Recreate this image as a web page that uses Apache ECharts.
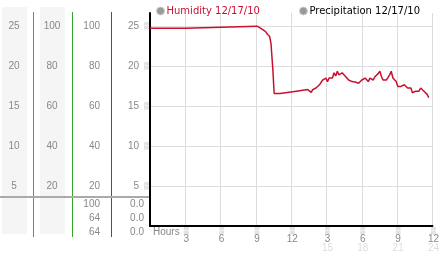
<!DOCTYPE html>
<html><head><meta charset="utf-8">
<script src="https://cdn.jsdelivr.net/npm/echarts@6/dist/echarts.min.js"></script>
<style>html,body{margin:0;padding:0;background:#fff}#c{width:442px;height:253px}</style>
</head><body><div id="c"></div>
<script>
// ---- data ----
const hours = [0, 3.0, 3.02, 9.1, 9.25, 9.39, 9.55, 9.8, 10.0, 10.17, 10.28, 10.36, 10.44, 10.55, 11.05, 12.44, 13.4, 13.55, 13.7, 13.83, 14.1, 14.25, 14.4, 14.67, 14.94, 15.08, 15.22, 15.36, 15.5, 15.64, 15.78, 15.92, 16.05, 16.19, 16.33, 16.47, 16.61, 16.75, 16.88, 17.03, 17.17, 17.3, 17.44, 17.58, 17.72, 17.86, 18.0, 18.14, 18.28, 18.42, 18.55, 18.69, 18.83, 18.97, 19.11, 19.25, 19.39, 19.53, 19.67, 19.8, 19.94, 20.08, 20.22, 20.36, 20.5, 20.64, 20.78, 20.92, 21.05, 21.2, 21.33, 21.47, 21.61, 21.75, 21.89, 22.03, 22.17, 22.3, 22.44, 22.58, 22.72, 22.86, 23.0, 23.14, 23.28, 23.42, 23.55, 23.69];
const humidity = [24.8, 24.8, 25.05, 25.05, 25.0, 24.8, 24.7, 24.4, 24.0, 23.75, 22.9, 21.25, 19.6, 16.6, 16.6, 16.9, 17.1, 17.3, 16.75, 17.1, 17.3, 17.5, 17.7, 18.3, 18.55, 18.1, 18.55, 18.75, 18.55, 19.2, 18.8, 19.4, 18.95, 18.75, 19.2, 18.95, 18.75, 18.55, 18.3, 18.35, 18.1, 17.9, 18.05, 18.1, 17.9, 18.15, 18.3, 18.1, 18.55, 18.4, 18.1, 18.55, 18.45, 18.3, 18.7, 18.95, 19.1, 19.4, 18.75, 18.3, 18.35, 18.3, 18.6, 18.95, 19.4, 18.55, 18.3, 18.1, 17.5, 17.55, 17.5, 17.5, 17.7, 17.9, 17.3, 17.35, 17.3, 16.7, 16.9, 16.9, 16.85, 16.9, 17.3, 17.1, 16.9, 16.7, 16.5, 16.1];
const precipitation = [];
const seriesNames = ['Humidity 12/17/10', 'Precipitation 12/17/10'];
const xTickValues = [3, 6, 9, 12, 15, 18, 21, 24];
const xTickLabels = ['3', '6', '9', '12', '3', '6', '9', '12'];
const xTickSub = ['', '', '', '', '15', '18', '21', '24'];
const footCol3 = ['100', '64', '64'];
const footCol4 = ['0.0', '0.0', '0.0'];

const chart = echarts.init(document.getElementById('c'), null, {renderer: 'canvas'});
const FONT = 'Liberation Sans';
const LBL = '#888';
const mark = '▒';

const graphics = [];
// gray bands
[[2, 25], [40, 25]].forEach(([x, w]) => graphics.push({type: 'rect', shape: {x: x, y: 7, width: w, height: 227}, style: {fill: '#f5f5f5'}, z: -10}));
// colored divider lines
[[33, '#1e9be0'], [72, '#2ea82e'], [111, '#c82020']].forEach(([x, c]) => graphics.push({type: 'rect', shape: {x: x, y: 12, width: 1, height: 225}, style: {fill: c}, z: 5}));
// horizontal gray separator
graphics.push({type: 'rect', shape: {x: 0, y: 196, width: 149, height: 2}, style: {fill: '#aaa'}, z: 6});
// footer values
footCol3.forEach((t, i) => graphics.push({type: 'text', x: 100, y: 204 + i * 14, style: {text: t, align: 'right', verticalAlign: 'middle', fill: LBL, font: '10px ' + FONT}, z: 7}));
footCol4.forEach((t, i) => graphics.push({type: 'text', x: 144, y: 204 + i * 14, style: {text: t, align: 'right', verticalAlign: 'middle', fill: LBL, font: '10px ' + FONT}, z: 7}));
graphics.push({type: 'text', x: 153, y: 232, style: {text: 'Hours', align: 'left', verticalAlign: 'middle', fill: LBL, font: '10px ' + FONT}, z: 7});

const sideAxis = (max, interval, offset, margin, align) => ({
  type: 'value', min: 0, max: max, interval: interval, position: 'left', offset: offset,
  axisLine: {show: false}, axisTick: {show: false}, splitLine: {show: false},
  axisLabel: {margin: margin, align: align, color: LBL, fontFamily: FONT, fontSize: 10, showMinLabel: false, showMaxLabel: false}
});

chart.setOption({
  animation: false,
  textStyle: {fontFamily: FONT},
  legend: {
    left: 151, top: 1, itemWidth: 8, itemHeight: 8, itemGap: 39, icon: 'circle', selectedMode: false,
    textStyle: {fontFamily: 'DejaVu Sans', fontSize: 10, padding: [0, 0, 0, -3]},
    data: [
      {name: seriesNames[0], itemStyle: {color: '#9a9a9a', borderColor: '#d0d0d0', borderWidth: 1}, textStyle: {color: '#c8102e'}},
      {name: seriesNames[1], itemStyle: {color: '#9a9a9a', borderColor: '#d0d0d0', borderWidth: 1}, textStyle: {color: '#000'}}
    ]
  },
  grid: {left: 150, right: 3.5, top: 13, bottom: 26.5},
  xAxis: {
    type: 'value', min: 0, max: 24, interval: 3,
    axisLine: {lineStyle: {color: '#000', width: 2}},
    axisTick: {show: false},
    splitLine: {lineStyle: {color: '#dcdcdc', width: 1}},
    axisLabel: {
      margin: 2, showMinLabel: false,
      formatter: v => {
        const i = xTickValues.indexOf(v);
        if (i < 0) return '';
        let s = '{m|' + mark + '}\n{n|' + xTickLabels[i] + '}';
        if (xTickSub[i]) s += '\n{f|' + xTickSub[i] + '}';
        return s;
      },
      rich: {
        m: {fontSize: 7, color: '#999', lineHeight: 7, padding: [0, 0, 0, 2]},
        n: {fontSize: 10, color: LBL, fontFamily: FONT, lineHeight: 8, padding: [0, 0, 0, 2]},
        f: {fontSize: 10, color: '#ddd', fontFamily: FONT, lineHeight: 10, padding: [0, 0, 0, 2]}
      }
    }
  },
  yAxis: [
    {
      type: 'value', min: 0, max: 26.7, interval: 5, position: 'left',
      axisLine: {show: true, lineStyle: {color: '#000', width: 2}},
      axisTick: {show: false},
      splitLine: {lineStyle: {color: ['transparent', '#dcdcdc', '#dcdcdc', '#dcdcdc', '#dcdcdc', '#dcdcdc', 'transparent'], width: 1}},
      axisLabel: {
        margin: 1, showMinLabel: false, showMaxLabel: false,
        formatter: v => '{v|' + v + '}{m|' + mark + '}',
        rich: {
          v: {fontSize: 10, color: LBL, fontFamily: FONT},
          m: {fontSize: 7, color: '#999', padding: [0, 0, 0, 5]}
        }
      }
    },
    sideAxis(106.8, 20, 40, 10, 'right'),
    sideAxis(106.8, 20, 98, 0, 'center'),
    sideAxis(26.7, 5, 136, 0, 'center')
  ],
  series: [
    {name: seriesNames[0], type: 'line', yAxisIndex: 0, showSymbol: false, symbol: 'none',
     lineStyle: {color: '#c8102e', width: 1.5}, itemStyle: {color: '#c8102e'},
     data: hours.map((h, i) => [h, humidity[i]])},
    {name: seriesNames[1], type: 'line', yAxisIndex: 0, showSymbol: false, data: precipitation}
  ],
  graphic: graphics
});
</script></body></html>
